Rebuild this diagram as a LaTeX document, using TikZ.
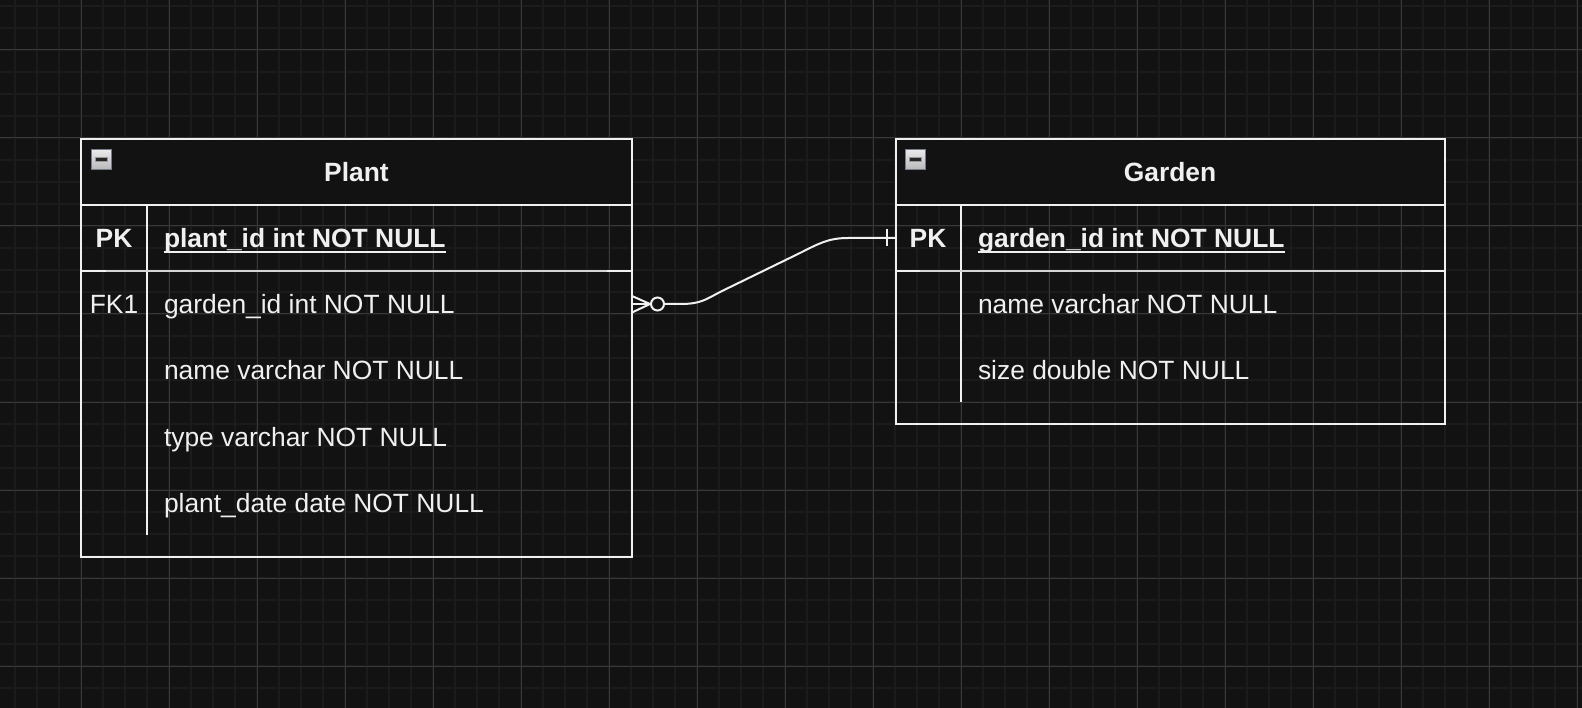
\documentclass[tikz,border=0pt]{standalone}
\usepackage{fontspec}
\setmainfont{Liberation Sans}
\usetikzlibrary{calc,positioning}

\definecolor{bgcol}{HTML}{121212}
\definecolor{minorcol}{HTML}{1B1B1B}
\definecolor{majorcol}{HTML}{383838}
\definecolor{ink}{HTML}{F0F0F0}
\definecolor{sepcol}{HTML}{D4D4D4}
\definecolor{iconedge}{HTML}{767C8C}

\begin{document}
\begin{tikzpicture}[x=1pt,y=-1pt,
		every node/.style = {text=ink, inner sep=0pt, outer sep=0pt,
			font=\fontsize{26.4}{30}\selectfont}]
	\tikzset{
		minorline/.style = {draw=minorcol, line width=1.6pt},
		majorline/.style = {draw=majorcol, line width=1pt},
		tablebox/.style = {draw=ink, line width=2pt, anchor=north west},
		headbox/.style = {fill=bgcol, draw=ink, line width=2pt, anchor=north west},
		rule/.style = {draw=ink, line width=2pt},
		thinrule/.style = {draw=sepcol, line width=1.3pt},
		keytxt/.style = {anchor=base},
		fieldtxt/.style = {anchor=base west},
		titletxt/.style = {anchor=base, font=\fontsize{26.4}{30}\selectfont\bfseries},
		conn/.style = {draw=ink, line width=2pt},
		icon/.style = {minimum size=20, draw=iconedge, line width=1.5pt,
			top color=white!92!black, bottom color=white!72!black},
		iconbar/.style = {fill=black!85, draw=white!60!black, line width=0.6pt,
			minimum width=12, minimum height=3.5}
	}

	% background and grid
	\fill[bgcol] (0,0) rectangle (1582,708);
	\useasboundingbox (0,0) rectangle (1582,708);
	\foreach \gx in {15,37,...,1582} \draw[minorline] (\gx,0) -- (\gx,708);
	\foreach \gy in {6,28,...,708} \draw[minorline] (0,\gy) -- (1582,\gy);
	\foreach \gx in {81,169,...,1582} \draw[majorline] (\gx,0) -- (\gx,708);
	\foreach \gy in {50,138,...,708} \draw[majorline] (0,\gy) -- (1582,\gy);

	% Plant table
	\node[tablebox, minimum width=551, minimum height=418] (plant) at (81,139) {};
	\node[headbox, minimum width=551, minimum height=66] (planthead) at (81,139) {};
	\node[titletxt] (planttitle) at (356.5,182) {Plant};
	\node[icon] (planticon) at (101.5,159.5) {};
	\node[iconbar] at (planticon) {};
	\draw[rule] (147,205) -- (147,535);
	\draw[thinrule] (81,271) -- (632,271);
	\draw[rule] (81,271) -- (106,271) (607,271) -- (632,271);
	\node[keytxt, font=\fontsize{26.4}{30}\selectfont\bfseries] (ppk) at (114,248) {PK};
	\node[fieldtxt, font=\fontsize{26.4}{30}\selectfont\bfseries] (ppkf) at (164,248) {plant\_id int NOT NULL};
	\draw[draw=ink, line width=2pt] ($(ppkf.base west)+(0,4.5)$) -- ($(ppkf.base east)+(0,4.5)$);
	\node[keytxt] (pfk) at (114,314) {FK1};
	\node[fieldtxt] (pf1) at (164,314) {garden\_id int NOT NULL};
	\node[fieldtxt] (pf2) at (164,380) {name varchar NOT NULL};
	\node[fieldtxt] (pf3) at (164,446) {type varchar NOT NULL};
	\node[fieldtxt] (pf4) at (164,512) {plant\_date date NOT NULL};

	% Garden table
	\node[tablebox, minimum width=549.5, minimum height=285] (garden) at (895.5,139) {};
	\node[headbox, minimum width=549.5, minimum height=66] (gardenhead) at (895.5,139) {};
	\node[titletxt] (gardentitle) at (1170,182) {Garden};
	\node[icon] (gardenicon) at (915.5,159.5) {};
	\node[iconbar] at (gardenicon) {};
	\draw[rule] (961,205) -- (961,402);
	\draw[thinrule] (895.5,271) -- (1445,271);
	\draw[rule] (895.5,271) -- (920,271) (1421,271) -- (1445,271);
	\node[keytxt, font=\fontsize{26.4}{30}\selectfont\bfseries] (gpk) at (928,248) {PK};
	\node[fieldtxt, font=\fontsize{26.4}{30}\selectfont\bfseries] (gpkf) at (978,248) {garden\_id int NOT NULL};
	\draw[draw=ink, line width=2pt] ($(gpkf.base west)+(0,4.5)$) -- ($(gpkf.base east)+(0,4.5)$);
	\node[fieldtxt] (gf1) at (978,314) {name varchar NOT NULL};
	\node[fieldtxt] (gf2) at (978,380) {size double NOT NULL};

	% relation: zero-or-many to one
	\coordinate (fkend) at (plant.east |- 0,304);
	\coordinate (pkend) at (garden.west |- 0,238);
	\node[circle, draw=ink, line width=2pt, minimum size=13] (zero) at (657.5,304) {};
	\draw[conn] (fkend) -- (zero.west);
	\draw[conn] ($(fkend)+(0,-8)$) -- (650,304) -- ($(fkend)+(0,8.5)$);
	\draw[conn] (zero.east) -- (680,304)
		.. controls (700,304) and (705,300) .. (720,292) -- (800,253)
		.. controls (818,244) and (828,238) .. (848,238) -- (pkend);
	\draw[conn] ($(pkend)+(-8.5,-8.5)$) -- ($(pkend)+(-8.5,8.5)$);
\end{tikzpicture}
\end{document}
